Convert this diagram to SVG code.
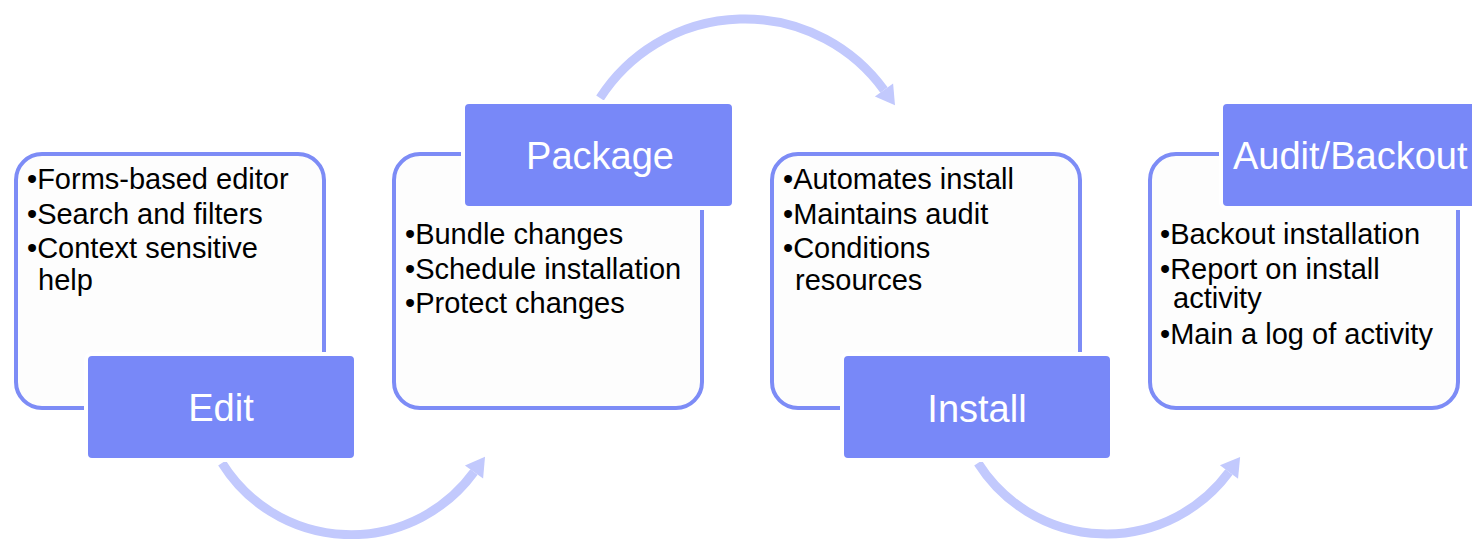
<svg xmlns="http://www.w3.org/2000/svg" width="1472" height="539" viewBox="0 0 1472 539">
<style>
.outer{fill:#fdfdfd;stroke:#7d8cf6;stroke-width:4}
.label{fill:#7888f8;stroke:#ffffff;stroke-width:4}
.lt{font-family:"Liberation Sans",Arial,sans-serif;font-size:38px;fill:#ffffff}
.bt{font-family:"Liberation Sans",Arial,sans-serif;font-size:29px;fill:#000000}
.arc{fill:none;stroke:#c2c9fd;stroke-width:9}
</style>
<defs>
<marker id="ah" markerUnits="userSpaceOnUse" markerWidth="30" markerHeight="30" viewBox="0 -12 18 24" refX="0" refY="0" orient="auto">
<path d="M0,-9 L15,0 L0,9 z" fill="#c2c9fd"/>
</marker>
</defs>
<rect width="1472" height="539" fill="#ffffff"/>
<g id="connectors">
<path class="arc" d="M222 463 A152 152 0 0 0 474 472" marker-end="url(#ah)"/>
<path class="arc" d="M600 98 A172 172 0 0 1 884 90" marker-end="url(#ah)"/>
<path class="arc" d="M978 463 A152 152 0 0 0 1229 472" marker-end="url(#ah)"/>
</g>
<g id="edit">
<rect class="outer" x="16" y="154" width="308" height="254" rx="26"/>
<text class="bt" x="27" y="189">•Forms-based editor</text>
<text class="bt" x="27" y="224">•Search and filters</text>
<text class="bt" x="27" y="258">•Context sensitive</text>
<text class="bt" x="38" y="290">help</text>
<rect class="label" x="86" y="354" width="270" height="106" rx="6"/>
<text class="lt" x="221" y="421" text-anchor="middle">Edit</text>
</g>
<g id="package">
<rect class="outer" x="394" y="154" width="308" height="254" rx="26"/>
<rect class="label" x="463" y="102" width="271" height="106" rx="6"/>
<text class="lt" x="600" y="169" text-anchor="middle">Package</text>
<text class="bt" x="405" y="244">•Bundle changes</text>
<text class="bt" x="405" y="279">•Schedule installation</text>
<text class="bt" x="405" y="313">•Protect changes</text>
</g>
<g id="install">
<rect class="outer" x="772" y="154" width="308" height="254" rx="26"/>
<text class="bt" x="783" y="189">•Automates install</text>
<text class="bt" x="783" y="224">•Maintains audit</text>
<text class="bt" x="783" y="258">•Conditions</text>
<text class="bt" x="795" y="290">resources</text>
<rect class="label" x="842" y="354" width="270" height="106" rx="6"/>
<text class="lt" x="977" y="422" text-anchor="middle">Install</text>
</g>
<g id="audit">
<rect class="outer" x="1150" y="154" width="308" height="254" rx="26"/>
<rect class="label" x="1221" y="102" width="271" height="106" rx="6"/>
<text class="lt" x="1233" y="169">Audit/Backout</text>
<text class="bt" x="1160" y="244">•Backout installation</text>
<text class="bt" x="1160" y="279">•Report on install</text>
<text class="bt" x="1173" y="308">activity</text>
<text class="bt" x="1160" y="344">•Main a log of activity</text>
</g>
</svg>
